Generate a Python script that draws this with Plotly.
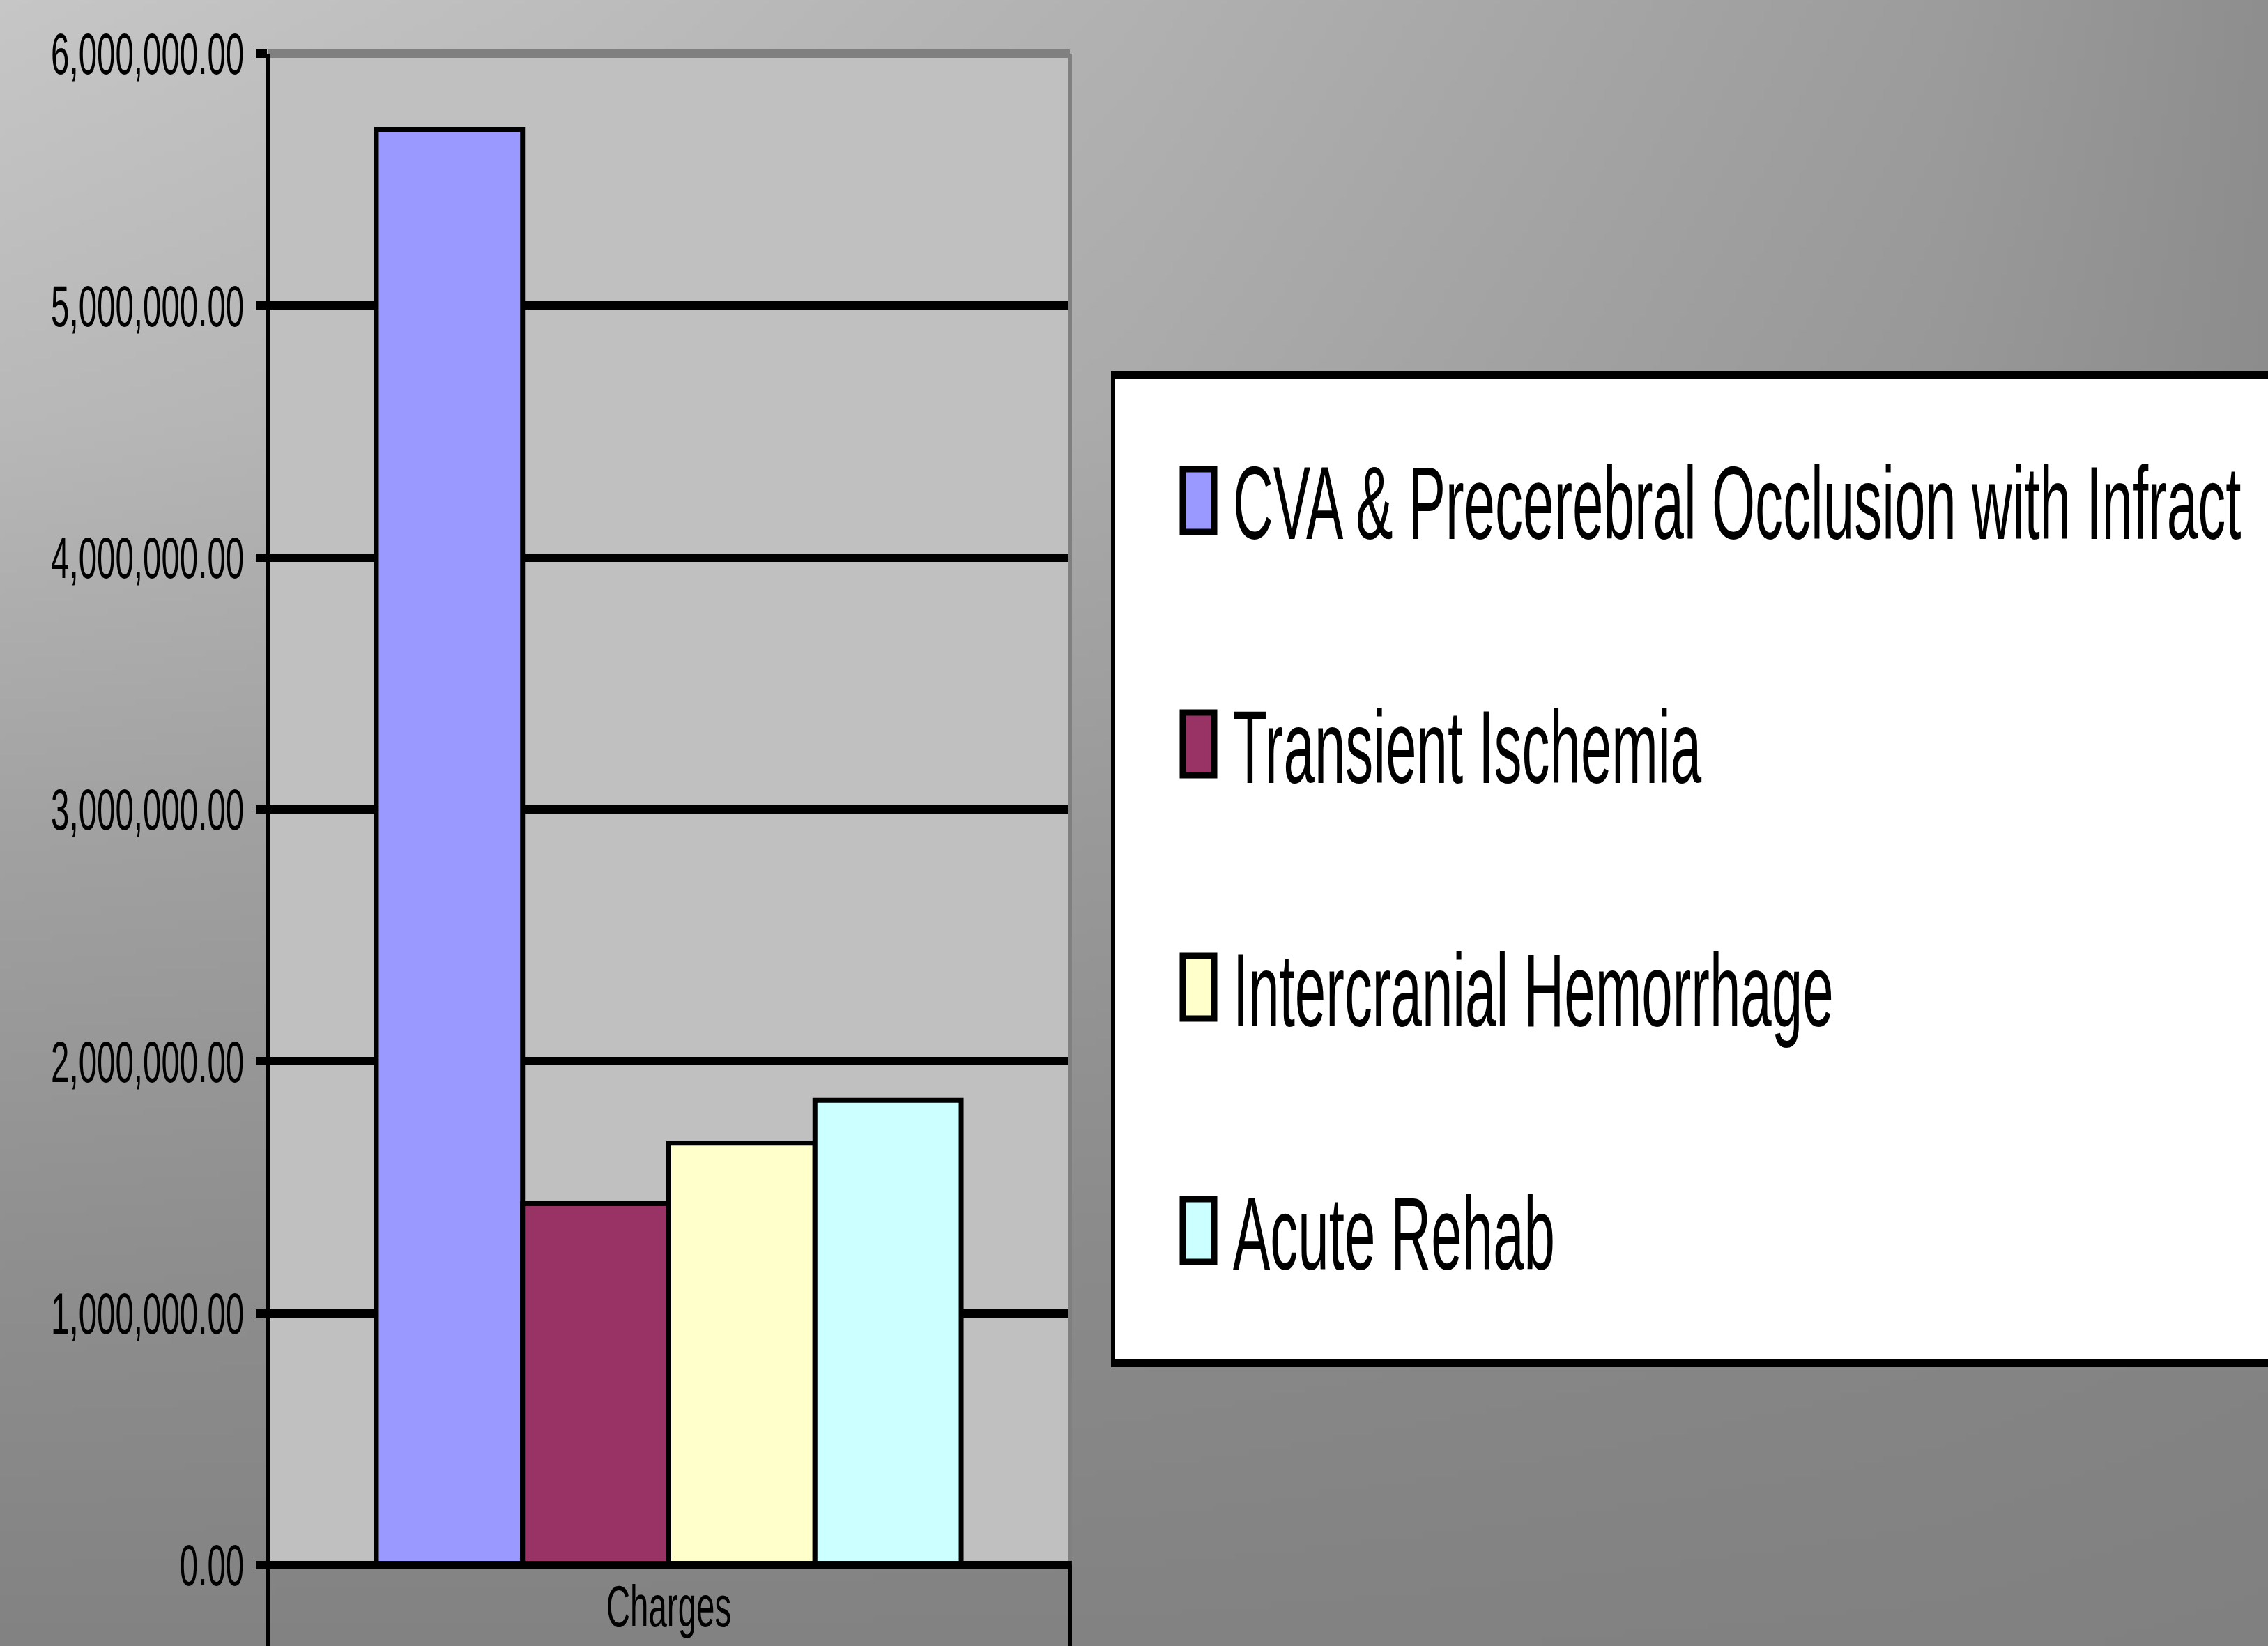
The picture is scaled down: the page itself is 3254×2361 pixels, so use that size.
import base64
import struct
import zlib

import numpy as np
import plotly.graph_objects as go

# ---------------- data ----------------
categories = ["Charges"]
series_names = [
    "CVA & Precerebral Occlusion with Infract",
    "Transient Ischemia",
    "Intercranial Hemorrhage",
    "Acute Rehab",
]
charges = [5700000, 1435000, 1675000, 1845000]
y_tick_values = [0, 1000000, 2000000, 3000000, 4000000, 5000000, 6000000]
y_tick_labels = ["0.00", "1,000,000.00", "2,000,000.00", "3,000,000.00",
                 "4,000,000.00", "5,000,000.00", "6,000,000.00"]

# ---------------- style ----------------
bar_colors = ["#9999FF", "#993366", "#FFFFCC", "#CCFFFF"]
FONT = "Liberation Sans, Arial, Helvetica, sans-serif"
W, H = 3254, 2361
ML, MR, MT, MB = 384, 0, 77, 116
PW, PH = W - ML - MR, H - MT - MB
PLOT_RIGHT = 1535
dom = (PLOT_RIGHT - ML) / PW


def px(X):
    return (X - ML) / PW


def py(Y):
    return 1 - (Y - MT) / PH


# background gradient (light top-left, darker right / bottom)
grad_x = [0, 800, 1627, 2800, 3254]
grad_y = [0, 600, 1180, 1800, 2361]
grad_v = [
    [198, 189, 177, 156, 142],
    [184, 178, 170, 151, 140],
    [162, 159, 153, 145, 138],
    [143, 141, 138, 134, 132],
    [130, 130, 130, 129, 128],
]


def gradient_uri():
    xs = np.linspace(0, W, 326)
    ys = np.linspace(0, H, 237)
    rows = np.array([np.interp(xs, grad_x, r) for r in grad_v])
    img = np.array([[np.interp(y, grad_y, rows[:, j]) for j in range(len(xs))] for y in ys])
    img = np.clip(np.round(img), 0, 255).astype(np.uint8)
    h, w = img.shape
    raw = b"".join(b"\x00" + row.tobytes() for row in img)

    def chunk(t, d):
        c = struct.pack(">I", len(d)) + t + d
        return c + struct.pack(">I", zlib.crc32(t + d) & 0xFFFFFFFF)

    png = (b"\x89PNG\r\n\x1a\n"
           + chunk(b"IHDR", struct.pack(">IIBBBBB", w, h, 8, 0, 0, 0, 0))
           + chunk(b"IDAT", zlib.compress(raw, 9))
           + chunk(b"IEND", b""))
    return "data:image/png;base64," + base64.b64encode(png).decode()


fig = go.Figure()
for name, val, col in zip(series_names, charges, bar_colors):
    fig.add_trace(go.Bar(
        x=categories, y=[val], name=name,
        marker=dict(color=col, line=dict(color="black", width=7)),
        showlegend=False,
    ))

shapes = []
yb = py(H + 20)
# silver plot area (drawn over the gradient image, below grid)
shapes.append(dict(type="rect", xref="paper", yref="paper", x0=0, x1=dom, y0=0, y1=1,
                   fillcolor="#c0c0c0", line=dict(width=0), layer="below"))
# plot frame
shapes.append(dict(type="line", xref="paper", yref="paper", x0=0, x1=dom, y0=1, y1=1,
                   line=dict(color="#808080", width=12), layer="above"))
shapes.append(dict(type="line", xref="paper", yref="paper", x0=dom, x1=dom, y0=0, y1=1,
                   line=dict(color="#808080", width=6), layer="above"))
shapes.append(dict(type="line", xref="paper", yref="paper", x0=dom, x1=dom, y0=yb, y1=0,
                   line=dict(color="black", width=6), layer="above"))
shapes.append(dict(type="line", xref="paper", yref="paper", x0=0, x1=0, y0=yb, y1=1,
                   line=dict(color="black", width=6), layer="above"))
shapes.append(dict(type="line", xref="paper", yref="paper", x0=-0.002, x1=dom + 0.001, y0=0, y1=0,
                   line=dict(color="black", width=12), layer="above"))

# legend box
LG_L, LG_T, LG_B = 1597, 538, 1955
shapes.append(dict(type="rect", xref="paper", yref="paper", x0=px(LG_L), x1=px(W + 40),
                   y0=py(LG_B), y1=py(LG_T), fillcolor="white", line=dict(width=0), layer="above"))
shapes.append(dict(type="line", xref="paper", yref="paper", x0=px(LG_L - 3), x1=px(W + 40),
                   y0=py(LG_T), y1=py(LG_T), line=dict(color="black", width=12), layer="above"))
shapes.append(dict(type="line", xref="paper", yref="paper", x0=px(LG_L - 3), x1=px(W + 40),
                   y0=py(LG_B), y1=py(LG_B), line=dict(color="black", width=12), layer="above"))
shapes.append(dict(type="line", xref="paper", yref="paper", x0=px(LG_L), x1=px(LG_L),
                   y0=py(LG_B), y1=py(LG_T), line=dict(color="black", width=6), layer="above"))

annotations = []
for i, (name, col) in enumerate(zip(series_names, bar_colors)):
    yc = 718 + i * 349
    shapes.append(dict(type="rect", xref="paper", yref="paper",
                       x0=px(1697), x1=px(1742), y0=py(yc + 45), y1=py(yc - 45),
                       fillcolor=col, line=dict(color="black", width=9), layer="above"))
    annotations.append(dict(text=name, xref="paper", yref="paper", x=px(1767), y=py(yc + 4),
                            xanchor="left", yanchor="middle", align="left", showarrow=False,
                            font=dict(family=FONT, size=148, color="black")))

fig.update_layout(
    width=W, height=H,
    margin=dict(l=ML, r=MR, t=MT, b=MB, pad=0, autoexpand=False),
    paper_bgcolor="#a0a0a0", plot_bgcolor="#c0c0c0",
    barmode="group", bargap=0.271, bargroupgap=0,
    showlegend=False,
    font=dict(family=FONT, color="black"),
    xaxis=dict(domain=[0, dom], showgrid=False, showline=False, zeroline=False, ticks="",
               ticklabelstandoff=3,
               tickfont=dict(family=FONT, size=84, color="black")),
    yaxis=dict(range=[0, 6000000], tickmode="array", tickvals=y_tick_values, ticktext=y_tick_labels,
               showgrid=True, gridcolor="black", gridwidth=12, zeroline=False, showline=False,
               ticks="outside", ticklen=16, tickwidth=12, tickcolor="black",
               tickfont=dict(family=FONT, size=84, color="black")),
    shapes=shapes,
    annotations=annotations,
    images=[dict(source=gradient_uri(), xref="paper", yref="paper",
                 x=-ML / PW, y=1 + MT / PH, sizex=W / PW, sizey=H / PH,
                 xanchor="left", yanchor="top", sizing="stretch", layer="below")],
)

post_js = """
(function(){
  document.body.style.margin = '0';
  document.body.style.padding = '0';
  document.body.style.overflow = 'hidden';
  var gd = document.getElementById('{plot_id}');
  function squeeze(el, sx){
    var bb = el.getBBox();
    var anchor = el.getAttribute('text-anchor') || 'start';
    var ax = anchor === 'end' ? bb.x + bb.width : (anchor === 'middle' ? bb.x + bb.width / 2 : bb.x);
    var old = el.getAttribute('transform') || '';
    el.setAttribute('transform', old + ' translate(' + ax + ',0) scale(' + sx + ',1) translate(' + (-ax) + ',0)');
  }
  gd.querySelectorAll('.ytick text, .xtick text').forEach(function(t){ squeeze(t, 0.565); });
  gd.querySelectorAll('.annotation-text').forEach(function(t){ squeeze(t, 0.54); });
})();
"""

fig.write_html("out.html", post_script=post_js, config={"displayModeBar": False})
